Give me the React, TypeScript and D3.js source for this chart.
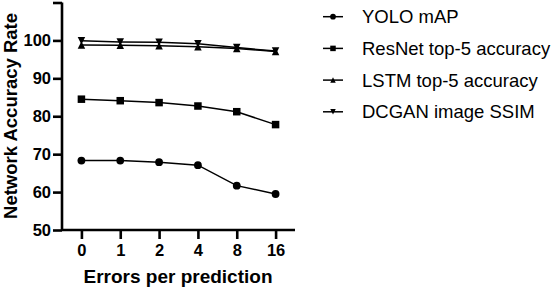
import { useEffect, useRef } from 'react';
import * as d3 from 'd3';

const ERRORS = ['0', '1', '2', '4', '8', '16'];
const YOLO = [68.3, 68.3, 67.9, 67.1, 61.7, 59.5];
const RESNET = [84.5, 84.1, 83.6, 82.7, 81.2, 77.8];
const LSTM = [98.8, 98.7, 98.6, 98.3, 97.9, 97.1];
const DCGAN = [99.9, 99.6, 99.5, 99.1, 98.1, 97.2];
const Y_TICKS = [50, 60, 70, 80, 90, 100, 110];

const SERIES = [
  { name: 'YOLO mAP', values: YOLO, shape: 'circle' },
  { name: 'ResNet top-5 accuracy', values: RESNET, shape: 'square' },
  { name: 'LSTM top-5 accuracy', values: LSTM, shape: 'up' },
  { name: 'DCGAN image SSIM', values: DCGAN, shape: 'down' },
];

const W = 556;
const H = 290;
const FONT = '"Liberation Sans", Arial, Helvetica, sans-serif';

function drawMarker(g: any, shape: string, x: number, y: number, s: number) {
  if (shape === 'circle') {
    g.append('circle').attr('cx', x).attr('cy', y).attr('r', s * 0.52).attr('fill', '#000');
  } else if (shape === 'square') {
    g.append('rect')
      .attr('x', x - s / 2)
      .attr('y', y - s / 2)
      .attr('width', s)
      .attr('height', s)
      .attr('fill', '#000');
  } else {
    const d = shape === 'up' ? 1 : -1;
    const h = s * 0.5;
    g.append('path')
      .attr('d', `M${x},${y - d * h}L${x + h},${y + d * h}L${x - h},${y + d * h}Z`)
      .attr('fill', '#000');
  }
}

export default function App() {
  const svgRef = useRef<SVGSVGElement>(null);

  useEffect(() => {
    const svg = d3.select(svgRef.current);
    svg.selectAll('*').remove();

    const x = d3.scalePoint().domain(ERRORS).range([62, 295]).padding(0.5);
    const y = d3.scaleLinear().domain([50, 110]).range([230, 2.5]);

    // axes
    const yAxis = svg
      .append('g')
      .attr('transform', 'translate(62,0)')
      .call(
        d3
          .axisLeft(y)
          .tickValues(Y_TICKS)
          .tickSize(9)
          .tickPadding(2)
          .tickFormat((d) => (d === 110 ? '' : String(d)))
      );
    const xAxis = svg
      .append('g')
      .attr('transform', 'translate(0,230)')
      .call(d3.axisBottom(x).tickSize(9).tickPadding(5));
    [yAxis, xAxis].forEach((a) => {
      a.select('.domain').attr('stroke', '#000').attr('stroke-width', 2.6);
      a.selectAll('.tick line').attr('stroke', '#000').attr('stroke-width', 2.6);
      a.selectAll('.tick text')
        .attr('fill', '#000')
        .style('font-family', FONT)
        .style('font-weight', 'bold')
        .style('font-size', '16.5px');
    });
    yAxis.select('.domain').attr('d', `M0,${y(110)}V${y(50)}`);
    xAxis.select('.domain').attr('d', `M62,0H295`);

    // axis titles
    svg
      .append('text')
      .attr('transform', `translate(16.5,116) rotate(-90)`)
      .attr('text-anchor', 'middle')
      .style('font-family', FONT)
      .style('font-weight', 'bold')
      .style('font-size', '18.5px')
      .text('Network Accuracy Rate');
    svg
      .append('text')
      .attr('x', 178)
      .attr('y', 282.5)
      .attr('text-anchor', 'middle')
      .style('font-family', FONT)
      .style('font-weight', 'bold')
      .style('font-size', '19px')
      .text('Errors per prediction');

    // series
    const line = d3
      .line<number>()
      .x((_, i) => x(ERRORS[i]) as number)
      .y((d) => y(d));
    SERIES.forEach((s) => {
      const g = svg.append('g');
      g.append('path')
        .datum(s.values)
        .attr('d', line)
        .attr('fill', 'none')
        .attr('stroke', '#000')
        .attr('stroke-width', 1.5);
      s.values.forEach((v, i) => drawMarker(g, s.shape, x(ERRORS[i]) as number, y(v), 7.5));
    });

    // legend
    const leg = svg.append('g');
    SERIES.forEach((s, i) => {
      const cy = 16.7 + i * 31.7;
      leg.append('line')
        .attr('x1', 323)
        .attr('x2', 343)
        .attr('y1', cy)
        .attr('y2', cy)
        .attr('stroke', '#000')
        .attr('stroke-width', 1.5);
      drawMarker(leg, s.shape, 333, cy, 5.5);
      leg.append('text')
        .attr('x', 362)
        .attr('y', cy + 6.5)
        .style('font-family', FONT)
        .style('font-size', '18.5px')
        .text(s.name);
    });
  }, []);

  return (
    <svg
      ref={svgRef}
      width={W}
      height={H}
      style={{ position: 'absolute', left: 0, top: 0, background: '#fff' }}
    />
  );
}
